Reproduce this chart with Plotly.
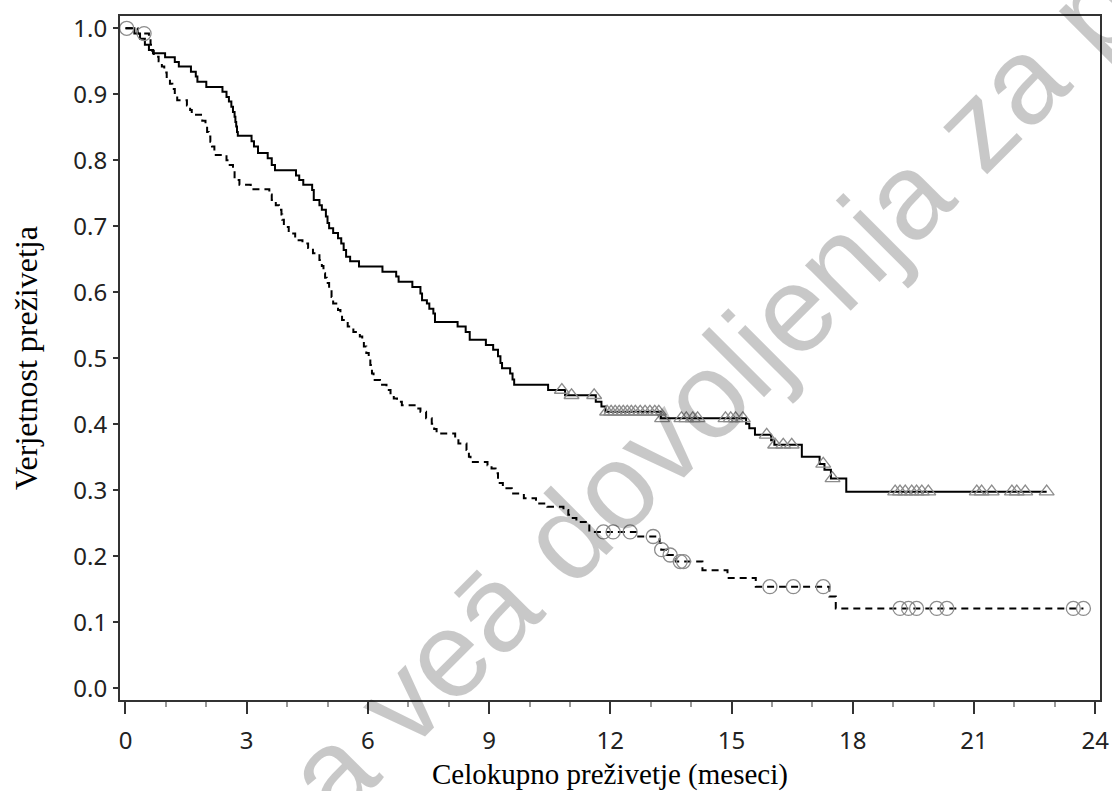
import numpy as np
import plotly.graph_objects as go

# ---- Data: solid curve (group A) step points: time (months), survival after step
a_time = [0.00, 0.22, 0.36, 0.48, 0.58, 0.68, 0.98, 1.22, 1.32, 1.62, 1.74, 1.78, 2.00,
          2.40, 2.50, 2.56, 2.62, 2.66, 2.70, 2.72, 2.74, 2.76, 2.78, 3.12, 3.18, 3.28,
          3.52, 3.62, 3.70, 4.22, 4.30, 4.40, 4.62, 4.66, 4.80, 4.86, 4.96, 5.00, 5.04,
          5.14, 5.26, 5.34, 5.40, 5.46, 5.56, 5.78, 6.36, 6.70, 6.76, 7.10, 7.30, 7.34,
          7.46, 7.52, 7.62, 7.66, 8.22, 8.42, 8.52, 8.92, 9.10, 9.22, 9.28, 9.32, 9.52,
          9.58, 9.62, 10.46, 10.88, 11.64, 11.78, 11.88, 13.25, 15.36, 15.44, 15.58,
          15.98, 16.06, 16.74, 17.18, 17.30, 17.46, 17.84, 22.80]
a_surv = [1.000, 0.992, 0.984, 0.975, 0.967, 0.962, 0.956, 0.949, 0.942, 0.934, 0.927, 0.919, 0.911,
          0.904, 0.896, 0.889, 0.881, 0.873, 0.866, 0.858, 0.851, 0.843, 0.837, 0.829, 0.821, 0.811,
          0.803, 0.793, 0.785, 0.777, 0.770, 0.763, 0.755, 0.740, 0.732, 0.725, 0.715, 0.705, 0.697,
          0.690, 0.682, 0.674, 0.664, 0.654, 0.647, 0.639, 0.631, 0.624, 0.616, 0.608, 0.598, 0.588,
          0.583, 0.575, 0.568, 0.555, 0.548, 0.540, 0.528, 0.520, 0.513, 0.503, 0.493, 0.485, 0.477,
          0.468, 0.460, 0.452, 0.444, 0.434, 0.427, 0.419, 0.409, 0.401, 0.394, 0.384,
          0.376, 0.369, 0.351, 0.340, 0.331, 0.318, 0.298, 0.298]
a_censor = [10.80, 11.04, 11.60, 11.92, 12.02, 12.12, 12.22, 12.32, 12.42, 12.52, 12.62,
            12.74, 12.86, 12.98, 13.10, 13.20, 13.28, 13.76, 13.88, 14.04, 14.16, 14.85,
            14.98, 15.10, 15.28, 15.87, 16.08, 16.28, 16.49, 17.27, 17.50, 19.05, 19.17,
            19.30, 19.46, 19.58, 19.71, 19.87, 21.07, 21.19, 21.44, 21.94, 22.06, 22.27, 22.80]

# ---- Data: dashed curve (group B)
b_time = [0.00, 0.30, 0.58, 0.62, 0.66, 0.70, 0.82, 0.90, 0.96, 1.02, 1.10, 1.16, 1.22, 1.28,
          1.52, 1.60, 1.64, 1.90, 1.98, 2.02, 2.06, 2.10, 2.14, 2.20, 2.50, 2.58, 2.66, 2.70,
          2.82, 3.10, 3.56, 3.62, 3.72, 3.80, 3.86, 3.88, 3.92, 4.04, 4.20, 4.38, 4.52, 4.64,
          4.80, 4.86, 4.90, 4.94, 4.98, 5.04, 5.10, 5.14, 5.26, 5.32, 5.36, 5.50, 5.64, 5.80,
          5.86, 5.90, 5.96, 6.02, 6.06, 6.10, 6.14, 6.30, 6.46, 6.56, 6.64, 6.72, 6.84, 7.20,
          7.30, 7.44, 7.58, 7.64, 7.70, 8.16, 8.24, 8.44, 8.50, 8.54, 8.96, 9.06, 9.16, 9.22,
          9.34, 9.56, 9.86, 10.16, 10.44, 10.84, 10.96, 11.04, 11.16, 11.48, 12.66, 13.22,
          13.26, 13.40, 13.62, 14.28, 14.90, 15.60, 17.42, 17.58, 23.71]
b_surv = [1.000, 0.992, 0.984, 0.975, 0.966, 0.957, 0.950, 0.942, 0.933, 0.924, 0.916, 0.908, 0.899, 0.891,
          0.883, 0.876, 0.869, 0.860, 0.851, 0.843, 0.836, 0.828, 0.821, 0.808, 0.800, 0.793, 0.785, 0.770,
          0.763, 0.756, 0.748, 0.740, 0.732, 0.725, 0.718, 0.710, 0.699, 0.689, 0.679, 0.674, 0.667, 0.659,
          0.649, 0.640, 0.629, 0.622, 0.614, 0.604, 0.593, 0.583, 0.573, 0.565, 0.558, 0.548, 0.540, 0.533,
          0.525, 0.518, 0.508, 0.500, 0.490, 0.477, 0.467, 0.460, 0.452, 0.444, 0.439, 0.434, 0.429, 0.424,
          0.419, 0.409, 0.401, 0.393, 0.386, 0.378, 0.371, 0.361, 0.351, 0.343, 0.338, 0.333, 0.326, 0.311,
          0.303, 0.295, 0.288, 0.280, 0.275, 0.270, 0.263, 0.258, 0.252, 0.237, 0.230, 0.220,
          0.210, 0.202, 0.192, 0.179, 0.167, 0.154, 0.139, 0.121, 0.121]
b_censor = [0.03, 0.46, 11.83, 12.07, 12.49, 13.06, 13.27, 13.48, 13.73, 13.81, 15.95, 16.53,
            17.27, 19.17, 19.38, 19.58, 20.08, 20.33, 23.46, 23.71]

x_ticks = [0, 3, 6, 9, 12, 15, 18, 21, 24]
y_ticks = [0.0, 0.1, 0.2, 0.3, 0.4, 0.5, 0.6, 0.7, 0.8, 0.9, 1.0]

x_title = "Celokupno preživetje (meseci)"
y_title = "Verjetnost preživetja"
watermark = "Zdravilo nima veā dovoljenja za promet"


def step_value(times, surv, t):
    idx = np.searchsorted(np.asarray(times), t, side="right") - 1
    return float(np.asarray(surv)[max(idx, 0)])


fig = go.Figure()

fig.add_trace(go.Scatter(x=b_time, y=b_surv, mode="lines", line_shape="hv",
                         line=dict(color="black", width=2, dash="7px,5px"),
                         showlegend=False, hoverinfo="skip"))
fig.add_trace(go.Scatter(x=a_time, y=a_surv, mode="lines", line_shape="hv",
                         line=dict(color="black", width=2),
                         showlegend=False, hoverinfo="skip"))
fig.add_trace(go.Scatter(x=b_censor, y=[step_value(b_time, b_surv, t) for t in b_censor],
                         mode="markers",
                         marker=dict(symbol="circle-open", size=14, color="#8c8c8c",
                                     line=dict(width=1.3, color="#8c8c8c")),
                         showlegend=False))
fig.add_trace(go.Scatter(x=a_censor, y=[step_value(a_time, a_surv, t) for t in a_censor],
                         mode="markers",
                         marker=dict(symbol="triangle-up-open", size=13, color="#8c8c8c",
                                     line=dict(width=1.3, color="#8c8c8c")),
                         showlegend=False))

# Plot frame at x 120..1100, y 16..700 of the 1112x791 page (body margin removed below).
W, H = 1112, 791
PL, PR, PT, PB = 120, 1100, 16, 700
L, R, T, B = PL, W - PR, PT, H - PB


def px_to_paper(px, py):
    return (px - PL) / (PR - PL), (PB - py) / (PB - PT)


wx, wy = px_to_paper(587, 515)
fig.add_annotation(text=watermark, xref="paper", yref="paper", x=wx, y=wy,
                   xanchor="center", yanchor="middle", showarrow=False, textangle=-45,
                   font=dict(family="Liberation Sans, Arial, sans-serif", size=122,
                             color="rgba(0,0,0,0.215)"))

fig.update_layout(
    width=W, height=H,
    margin=dict(l=L, r=R, t=T, b=B, pad=0),
    paper_bgcolor="white", plot_bgcolor="white",
    showlegend=False,
)

tick_font = dict(family="Noto Sans, Open Sans, sans-serif", size=24, color="#222222")
title_font_family = "Liberation Serif, Times New Roman, serif"

fig.update_xaxes(
    range=[-0.136, 24.12], tickmode="array", tickvals=x_ticks,
    ticktext=[str(v) for v in x_ticks],
    showline=True, mirror=True, linecolor="#333333", linewidth=2,
    ticks="outside", ticklen=12, tickwidth=2, tickcolor="#333333",
    minor=dict(dtick=1, ticks="outside", ticklen=5, tickwidth=1.5, tickcolor="#999999"),
    showgrid=False, zeroline=False, automargin=False,
    tickfont=tick_font, ticklabelstandoff=6,
    title=dict(text=x_title, standoff=10,
               font=dict(family=title_font_family, size=29, color="black")),
)
fig.update_yaxes(
    range=[-0.0177, 1.0186], tickmode="array", tickvals=y_ticks,
    ticktext=[f"{v:.1f}" for v in y_ticks],
    showline=True, mirror=True, linecolor="#333333", linewidth=2,
    ticks="outside", ticklen=5, tickwidth=1.5, tickcolor="#333333",
    showgrid=False, zeroline=False, automargin=False,
    tickfont=tick_font, ticklabelstandoff=1,
    title=dict(text=y_title, standoff=26,
               font=dict(family=title_font_family, size=32, color="black")),
)

fig.write_html(
    "out.html",
    config={"displayModeBar": False},
    post_script="document.body.style.margin='0';document.body.style.overflow='hidden';",
)
